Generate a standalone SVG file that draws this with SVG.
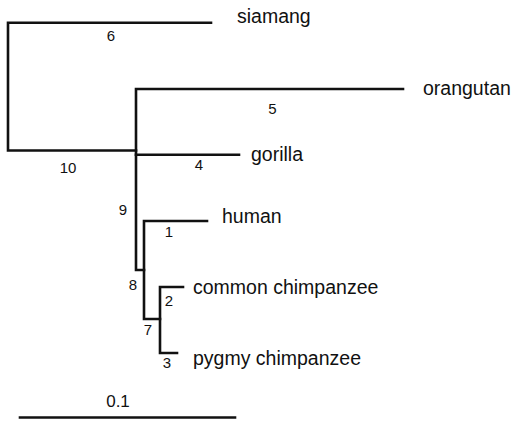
<svg xmlns="http://www.w3.org/2000/svg" width="511" height="421" viewBox="0 0 511 421">
<style>
.br{fill:none;stroke:#111;stroke-width:2.6;stroke-linecap:square}
.lab{font-family:"Liberation Sans",Arial,sans-serif;font-size:19.5px;fill:#111}
.num{font-family:"Liberation Sans",Arial,sans-serif;font-size:15px;fill:#111;text-anchor:middle}
</style>
<rect width="511" height="421" fill="#fff"/>
<g id="connectors">
<path class="br" d="M211,22.7 H8 V150.5 H136"/>
<path class="br" d="M403,89 H136 V270 H144"/>
<path class="br" d="M136,154.7 H239"/>
<path class="br" d="M207,221 H144 V319 H160"/>
<path class="br" d="M183,287 H160 V353 H177"/>
</g>
<g id="siamang"><text class="lab" x="237" y="23">siamang</text></g>
<g id="orangutan"><text class="lab" x="423" y="95">orangutan</text></g>
<g id="gorilla"><text class="lab" x="251" y="161">gorilla</text></g>
<g id="human"><text class="lab" x="222" y="223">human</text></g>
<g id="common-chimpanzee"><text class="lab" x="193" y="294">common chimpanzee</text></g>
<g id="pygmy-chimpanzee"><text class="lab" x="193" y="365">pygmy chimpanzee</text></g>
<g id="branch-labels">
<text class="num" x="111" y="41">6</text>
<text class="num" x="272.5" y="114">5</text>
<text class="num" x="68" y="173">10</text>
<text class="num" x="199" y="170">4</text>
<text class="num" x="123" y="215">9</text>
<text class="num" x="169" y="237">1</text>
<text class="num" x="133" y="290">8</text>
<text class="num" x="169" y="306">2</text>
<text class="num" x="148" y="335">7</text>
<text class="num" x="167" y="368">3</text>
</g>
<g id="scale-bar">
<path class="br" d="M20,417.5 H235"/>
<text class="num" x="118" y="407" style="font-size:17px">0.1</text>
</g>
</svg>
